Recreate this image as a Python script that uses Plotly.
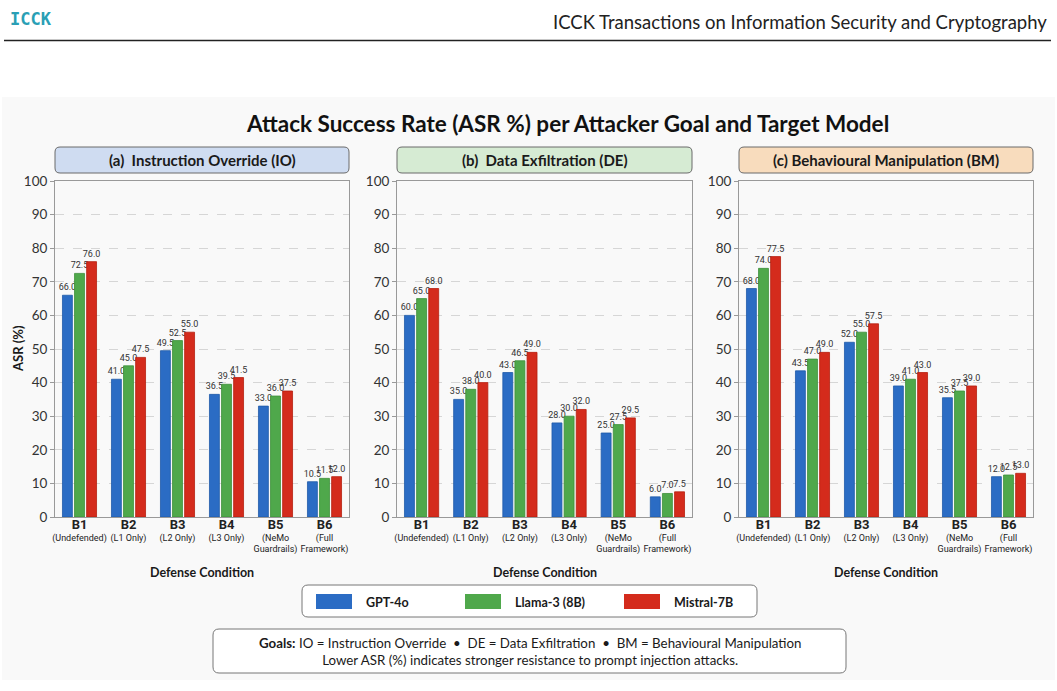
import plotly.graph_objects as go

W, H = 1057, 691

# ---------------- data ----------------
categories = ["B1", "B2", "B3", "B4", "B5", "B6"]
cat_sub = ["(Undefended)", "(L1 Only)", "(L2 Only)", "(L3 Only)", "(NeMo<br>Guardrails)", "(Full<br>Framework)"]
models = ["GPT-4o", "Llama-3 (8B)", "Mistral-7B"]
colors = ["#2b6cc4", "#4fa84b", "#d42b1c"]
line_colors = ["#1f5aa8", "#3d8f3a", "#b5200f"]

io_gpt = [66.0, 41.0, 49.5, 36.5, 33.0, 10.5]
io_llama = [72.5, 45.0, 52.5, 39.5, 36.0, 11.5]
io_mistral = [76.0, 47.5, 55.0, 41.5, 37.5, 12.0]

de_gpt = [60.0, 35.0, 43.0, 28.0, 25.0, 6.0]
de_llama = [65.0, 38.0, 46.5, 30.0, 27.5, 7.0]
de_mistral = [68.0, 40.0, 49.0, 32.0, 29.5, 7.5]

bm_gpt = [68.0, 43.5, 52.0, 39.0, 35.5, 12.0]
bm_llama = [74.0, 47.0, 55.0, 41.0, 37.5, 12.5]
bm_mistral = [77.5, 49.0, 57.5, 43.0, 39.0, 13.0]

panels = [
    ("(a)  Instruction Override (IO)", [io_gpt, io_llama, io_mistral], "#cfdcf1"),
    ("(b)  Data Exfiltration (DE)", [de_gpt, de_llama, de_mistral], "#d6ebd3"),
    ("(c) Behavioural Manipulation (BM)", [bm_gpt, bm_llama, bm_mistral], "#f8dcbd"),
]

title_text = "Attack Success Rate (ASR %) per Attacker Goal and Target Model"
header_text = "ICCK Transactions on Information Security and Cryptography"
notes_text = ("<b>Goals:</b> IO = Instruction Override  \u2022  DE = Data Exfiltration  \u2022  "
              "BM = Behavioural Manipulation<br>Lower ASR (%) indicates stronger resistance to prompt injection attacks.")

# ---------------- layout helpers ----------------
def px(x):
    return x / W


def py(y):
    return 1 - y / H


def rrect(x0, y0, x1, y1, r=5):
    rx, ry = r / W, r / H
    X0, X1 = px(x0), px(x1)
    Y0, Y1 = py(y0), py(y1)
    return (f"M {X0+rx},{Y0} L {X1-rx},{Y0} Q {X1},{Y0} {X1},{Y0-ry} "
            f"L {X1},{Y1+ry} Q {X1},{Y1} {X1-rx},{Y1} L {X0+rx},{Y1} "
            f"Q {X0},{Y1} {X0},{Y1+ry} L {X0},{Y0-ry} Q {X0},{Y0} {X0+rx},{Y0} Z")


FONT = "Lato, 'Open Sans', sans-serif"
NARROW = "Roboto, Lato, sans-serif"

plot_x = [(55, 349), (397, 692), (739, 1033)]
plot_top, plot_bot = 181, 517

fig = go.Figure()
shapes = []
annotations = []

shapes.append(dict(type="rect", xref="paper", yref="paper", x0=px(2), x1=px(1055), y0=py(680), y1=py(97),
                   fillcolor="#f9f9f9", line=dict(width=0), layer="below"))

ticktext = [f"<span style='font-size:13px'><b>{c}</b></span><br>{s}" for c, s in zip(categories, cat_sub)]

for i, (ptitle, series, hdr_col) in enumerate(panels):
    xa = "x" if i == 0 else f"x{i+1}"
    ya = "y" if i == 0 else f"y{i+1}"
    for m, vals, col, lc in zip(models, series, colors, line_colors):
        fig.add_trace(go.Bar(
            x=categories, y=vals, name=m, xaxis=xa, yaxis=ya,
            marker=dict(color=col, line=dict(color=lc, width=0.8)),
            text=[f"{v:.1f}" for v in vals], textposition="outside",
            textfont=dict(family=NARROW, size=9, color="#333"),
            constraintext="none", cliponaxis=False, showlegend=False,
            offsetgroup=m,
        ))
    x0, x1 = plot_x[i]
    axkey = "xaxis" if i == 0 else f"xaxis{i+1}"
    aykey = "yaxis" if i == 0 else f"yaxis{i+1}"
    fig.layout[axkey] = dict(
        domain=[px(x0), px(x1)], anchor=ya, tickmode="array", tickvals=categories, ticktext=ticktext,
        tickangle=0, automargin=False,
        tickfont=dict(family=NARROW, size=9, color="#222"), showline=True, linecolor="#999", linewidth=1,
        mirror=True, ticks="", showgrid=False, fixedrange=True,
    )
    fig.layout[aykey] = dict(
        domain=[py(plot_bot), py(plot_top)], anchor=xa, range=[0, 100], dtick=10, automargin=False,
        tickfont=dict(family=FONT, size=13.5, color="#333"), showline=True, linecolor="#999", linewidth=1,
        mirror=True, ticks="outside", ticklen=4, tickcolor="#999", showgrid=True, gridcolor="#d6d6d6",
        griddash="dash", gridwidth=1, zeroline=False, fixedrange=True,
    )
    shapes.append(dict(type="path", xref="paper", yref="paper", path=rrect(x0, 147, x1, 173, 5),
                       fillcolor=hdr_col, line=dict(color="#6a6a6a", width=1)))
    annotations.append(dict(x=px((x0 + x1) / 2), y=py(160), xref="paper", yref="paper", text=f"<b>{ptitle}</b>",
                            showarrow=False, font=dict(family=FONT, size=15, color="#1a1a1a"),
                            xanchor="center", yanchor="middle"))
    annotations.append(dict(x=px((x0 + x1) / 2), y=py(572), xref="paper", yref="paper",
                            text="<b>Defense Condition</b>", showarrow=False,
                            font=dict(family=FONT, size=12.5, color="#1a1a1a"), xanchor="center", yanchor="middle"))

annotations.append(dict(x=px(18), y=py(349), xref="paper", yref="paper", text="<b>ASR (%)</b>", textangle=-90,
                        showarrow=False, font=dict(family=FONT, size=13, color="#1a1a1a"),
                        xanchor="center", yanchor="middle"))

annotations.append(dict(x=px(567), y=py(124), xref="paper", yref="paper", text=f"<b>{title_text}</b>",
                        showarrow=False, font=dict(family=FONT, size=22.5, color="#111"),
                        xanchor="center", yanchor="middle"))

annotations.append(dict(x=px(1049), y=py(22), xref="paper", yref="paper", text=header_text, showarrow=False,
                        font=dict(family=FONT, size=18.5, color="#222"), xanchor="right", yanchor="middle"))
annotations.append(dict(x=px(8), y=py(19), xref="paper", yref="paper", text="<b>ICCK</b>", showarrow=False,
                        font=dict(family="'DejaVu Sans Mono', monospace", size=17, color="#2a9fb5"),
                        xanchor="left", yanchor="middle"))
shapes.append(dict(type="line", xref="paper", yref="paper", x0=px(4), x1=px(1051), y0=py(40.5), y1=py(40.5),
                   line=dict(color="#222", width=1.5)))

# custom legend
shapes.append(dict(type="path", xref="paper", yref="paper", path=rrect(302, 585, 757, 617, 6),
                   fillcolor="white", line=dict(color="#777", width=1)))
leg_swatch = [(316, 352), (465, 501), (624, 660)]
for (s0, s1), m, col in zip(leg_swatch, models, colors):
    shapes.append(dict(type="rect", xref="paper", yref="paper", x0=px(s0), x1=px(s1), y0=py(609), y1=py(594),
                       fillcolor=col, line=dict(width=0)))
    annotations.append(dict(x=px(s1 + 12), y=py(602), xref="paper", yref="paper", text=f"<b>{m}</b>",
                            showarrow=False, font=dict(family=FONT, size=12.5, color="#1a1a1a"),
                            xanchor="left", yanchor="middle"))

# notes box
shapes.append(dict(type="path", xref="paper", yref="paper", path=rrect(213, 629, 846, 673, 6),
                   fillcolor="white", line=dict(color="#777", width=1)))
annotations.append(dict(x=px(529.5), y=py(651), xref="paper", yref="paper", text=notes_text, showarrow=False,
                        font=dict(family=FONT, size=13.3, color="#1a1a1a"), xanchor="center", yanchor="middle",
                        align="center"))

fig.update_layout(
    width=W, height=H, margin=dict(l=0, r=0, t=0, b=0, autoexpand=False), autosize=False,
    paper_bgcolor="white", plot_bgcolor="white",
    barmode="group", bargap=0.26, bargroupgap=0.18,
    shapes=shapes, annotations=annotations, showlegend=False,
    font=dict(family=FONT, color="#222"),
)

fig.write_html("out.html", config={"displayModeBar": False})
